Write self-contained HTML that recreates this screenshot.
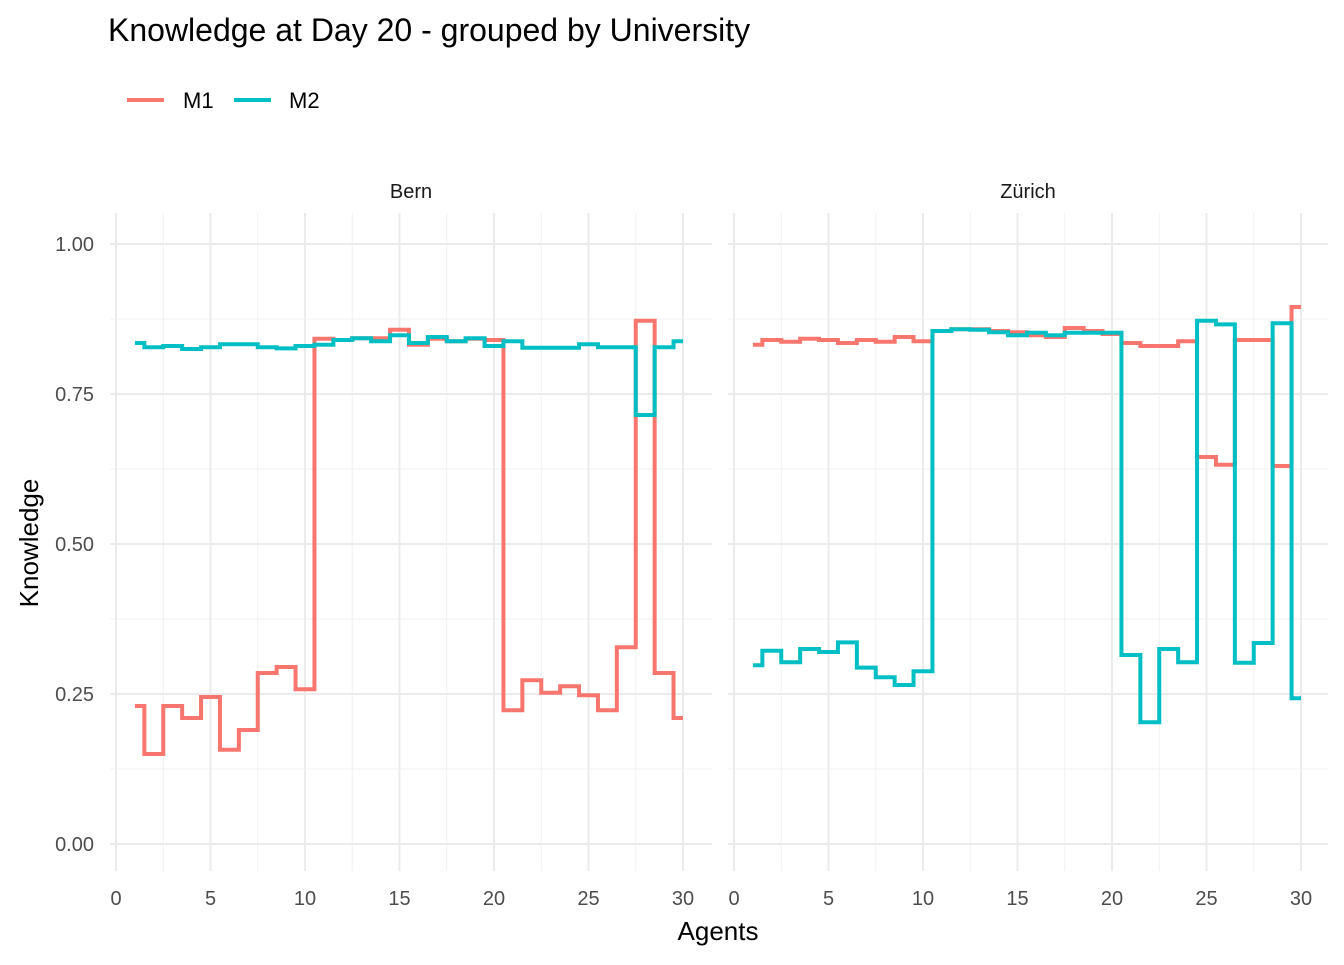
<!DOCTYPE html>
<html><head><meta charset="utf-8"><style>
body{margin:0;background:#fff;font-family:"Liberation Sans",Arial,sans-serif}
</style></head><body>
<svg id="chart" width="1344" height="960" xmlns="http://www.w3.org/2000/svg" font-family="Liberation Sans, Arial, sans-serif">
<text x="108" y="41" font-size="32" fill="#000">Knowledge at Day 20 - grouped by University</text>
<g>
<line x1="127" y1="100" x2="164" y2="100" stroke="#F8766D" stroke-width="4"/>
<text x="183" y="108" font-size="22">M1</text>
<line x1="234" y1="100" x2="271" y2="100" stroke="#00BFC4" stroke-width="4"/>
<text x="289" y="108" font-size="22">M2</text>
</g>
<text transform="translate(38,543) rotate(-90)" text-anchor="middle" font-size="26">Knowledge</text>
<text x="718" y="940" text-anchor="middle" font-size="26">Agents</text>
<g id="plot"></g>
</svg>
<script>
const agents=[1,2,3,4,5,6,7,8,9,10,11,12,13,14,15,16,17,18,19,20,21,22,23,24,25,26,27,28,29,30];
const bernM1=[0.23,0.15,0.23,0.21,0.245,0.157,0.19,0.285,0.295,0.258,0.842,0.84,0.843,0.843,0.857,0.832,0.842,0.838,0.842,0.84,0.223,0.273,0.252,0.263,0.248,0.223,0.328,0.872,0.285,0.21];
const bernM2=[0.835,0.828,0.83,0.825,0.828,0.833,0.833,0.828,0.826,0.83,0.832,0.84,0.843,0.838,0.848,0.835,0.845,0.838,0.843,0.83,0.838,0.827,0.827,0.827,0.833,0.828,0.828,0.715,0.828,0.838];
const zurM1=[0.832,0.84,0.837,0.842,0.84,0.835,0.84,0.837,0.845,0.838,0.855,0.858,0.858,0.855,0.853,0.848,0.845,0.86,0.855,0.85,0.835,0.83,0.83,0.838,0.645,0.632,0.84,0.84,0.63,0.895];
const zurM2=[0.298,0.322,0.303,0.325,0.32,0.336,0.294,0.278,0.265,0.288,0.855,0.858,0.857,0.853,0.848,0.852,0.848,0.852,0.852,0.852,0.315,0.203,0.325,0.303,0.872,0.866,0.302,0.335,0.868,0.243];
const panels=["Bern","Zürich"];
const xTicks=[0,5,10,15,20,25,30];
const yTicks=[0,0.25,0.5,0.75,1];
const yLabels=["0.00","0.25","0.50","0.75","1.00"];
const NS="http://www.w3.org/2000/svg";
const plot=document.getElementById('plot');
const panelGeo=[{l:110,r:712,x0:116},{l:728,r:1328,x0:734}];
const kx=567/30;
const Y=v=>844-v*600;
function mk(tag,attrs,parent){const e=document.createElementNS(NS,tag);for(const k in attrs)e.setAttribute(k,attrs[k]);(parent||plot).appendChild(e);return e;}
function stepPath(X,vals){let d='';for(let i=0;i<agents.length;i++){const a=agents[i];const xs=i==0?X(a):X(a-0.5);const xe=i==agents.length-1?X(a):X(a+0.5);d+=(i==0?'M':'L')+xs+','+Y(vals[i])+'L'+xe+','+Y(vals[i]);}return d;}
const series=[[bernM1,bernM2],[zurM1,zurM2]];
panelGeo.forEach((p,pi)=>{
  const X=v=>p.x0+v*kx;
  const g=mk('g',{});
  
  
  for(let v=0.125;v<1.1;v+=0.25){const l=mk('line',{x1:p.l,x2:p.r,y1:Y(v),y2:Y(v),stroke:'#f0f0f0','stroke-width':1},g);}
  for(let v=2.5;v<31;v+=5){const l=mk('line',{x1:X(v),x2:X(v),y1:213,y2:871,stroke:'#f0f0f0','stroke-width':1},g);}
  yTicks.forEach((v,i)=>{const l=mk('line',{x1:p.l,x2:p.r,y1:Y(v),y2:Y(v),stroke:'#ebebeb','stroke-width':2},g);
    if(pi==0){const t=mk('text',{x:94,y:Y(v)+7,'text-anchor':'end','font-size':20,fill:'#4d4d4d'},g);t.textContent=yLabels[i];}});
  xTicks.forEach(v=>{const l=mk('line',{x1:X(v),x2:X(v),y1:213,y2:871,stroke:'#ebebeb','stroke-width':2},g);
    const t=mk('text',{x:X(v),y:905,'text-anchor':'middle','font-size':20,fill:'#4d4d4d'},g);t.textContent=v;});
  const st=mk('text',{x:(p.l+p.r)/2,y:198,'text-anchor':'middle','font-size':20,fill:'#1a1a1a'},g);st.textContent=panels[pi];
  
  const cols=['#F8766D','#00BFC4'];
  series[pi].forEach((vals,si)=>{const pth=mk('path',{d:stepPath(X,vals),fill:'none',stroke:cols[si],'stroke-width':4,'stroke-linejoin':'miter'},g);
    });
});
</script>
</body></html>
